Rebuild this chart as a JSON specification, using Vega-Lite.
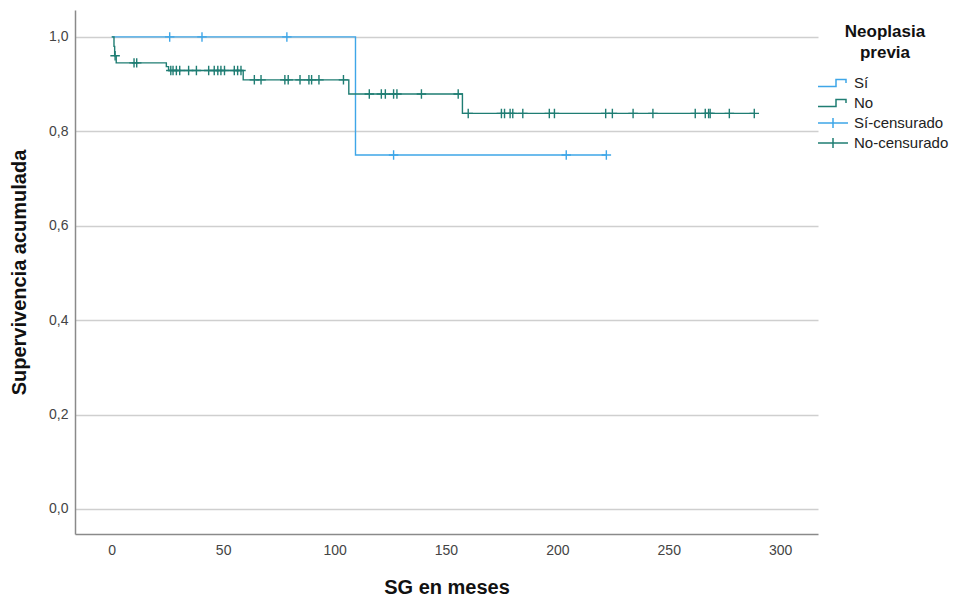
{
  "$schema": "https://vega.github.io/schema/vega-lite/v6.json",
  "autosize": {"type": "none"},
  "width": 743,
  "height": 524,
  "padding": {"left": 75, "top": 10, "right": 147, "bottom": 69},
  "background": "white",
  "config": {
    "view": {"stroke": null},
    "font": "Liberation Sans",
    "axis": {"domainColor": "#8a8a8a", "domainWidth": 1.5, "ticks": false, "labelColor": "#444", "labelFont": "Liberation Sans", "labelFontSize": 14, "titleFont": "Liberation Sans", "titleFontSize": 20, "titleFontWeight": "bold", "titleColor": "#111", "gridColor": "#cfcfcf", "gridWidth": 1.5}
  },
  "data": {
    "values": [
      {"grupo": "Sí", "tipo": "curva", "t": 0, "s": 1.0},
      {"grupo": "Sí", "tipo": "curva", "t": 109.4, "s": 0.75},
      {"grupo": "Sí", "tipo": "curva", "t": 222, "s": 0.75},
      {"grupo": "No", "tipo": "curva", "t": 0, "s": 1.0},
      {"grupo": "No", "tipo": "curva", "t": 1, "s": 0.98},
      {"grupo": "No", "tipo": "curva", "t": 1.3, "s": 0.96},
      {"grupo": "No", "tipo": "curva", "t": 2, "s": 0.945},
      {"grupo": "No", "tipo": "curva", "t": 24.5, "s": 0.937},
      {"grupo": "No", "tipo": "curva", "t": 25.5, "s": 0.929},
      {"grupo": "No", "tipo": "curva", "t": 59, "s": 0.909},
      {"grupo": "No", "tipo": "curva", "t": 106.4, "s": 0.879},
      {"grupo": "No", "tipo": "curva", "t": 157.4, "s": 0.838},
      {"grupo": "No", "tipo": "curva", "t": 288.4, "s": 0.838},
      {"grupo": "Sí-censurado", "tipo": "cens", "t": 26, "s": 1.0},
      {"grupo": "Sí-censurado", "tipo": "cens", "t": 40.5, "s": 1.0},
      {"grupo": "Sí-censurado", "tipo": "cens", "t": 78.6, "s": 1.0},
      {"grupo": "Sí-censurado", "tipo": "cens", "t": 126.5, "s": 0.75},
      {"grupo": "Sí-censurado", "tipo": "cens", "t": 204, "s": 0.75},
      {"grupo": "Sí-censurado", "tipo": "cens", "t": 222, "s": 0.75},
      {"grupo": "No-censurado", "tipo": "cens", "t": 1.5, "s": 0.96},
      {"grupo": "No-censurado", "tipo": "cens", "t": 10, "s": 0.945},
      {"grupo": "No-censurado", "tipo": "cens", "t": 11.2, "s": 0.945},
      {"grupo": "No-censurado", "tipo": "cens", "t": 26.5, "s": 0.929},
      {"grupo": "No-censurado", "tipo": "cens", "t": 27.5, "s": 0.929},
      {"grupo": "No-censurado", "tipo": "cens", "t": 29, "s": 0.929},
      {"grupo": "No-censurado", "tipo": "cens", "t": 30.5, "s": 0.929},
      {"grupo": "No-censurado", "tipo": "cens", "t": 34.5, "s": 0.929},
      {"grupo": "No-censurado", "tipo": "cens", "t": 38, "s": 0.929},
      {"grupo": "No-censurado", "tipo": "cens", "t": 43.5, "s": 0.929},
      {"grupo": "No-censurado", "tipo": "cens", "t": 46, "s": 0.929},
      {"grupo": "No-censurado", "tipo": "cens", "t": 47.6, "s": 0.929},
      {"grupo": "No-censurado", "tipo": "cens", "t": 49, "s": 0.929},
      {"grupo": "No-censurado", "tipo": "cens", "t": 50.6, "s": 0.929},
      {"grupo": "No-censurado", "tipo": "cens", "t": 55, "s": 0.929},
      {"grupo": "No-censurado", "tipo": "cens", "t": 56.5, "s": 0.929},
      {"grupo": "No-censurado", "tipo": "cens", "t": 58, "s": 0.929},
      {"grupo": "No-censurado", "tipo": "cens", "t": 64, "s": 0.909},
      {"grupo": "No-censurado", "tipo": "cens", "t": 67, "s": 0.909},
      {"grupo": "No-censurado", "tipo": "cens", "t": 77.7, "s": 0.909},
      {"grupo": "No-censurado", "tipo": "cens", "t": 79.2, "s": 0.909},
      {"grupo": "No-censurado", "tipo": "cens", "t": 84.5, "s": 0.909},
      {"grupo": "No-censurado", "tipo": "cens", "t": 88.5, "s": 0.909},
      {"grupo": "No-censurado", "tipo": "cens", "t": 89.7, "s": 0.909},
      {"grupo": "No-censurado", "tipo": "cens", "t": 93, "s": 0.909},
      {"grupo": "No-censurado", "tipo": "cens", "t": 104, "s": 0.909},
      {"grupo": "No-censurado", "tipo": "cens", "t": 115.6, "s": 0.879},
      {"grupo": "No-censurado", "tipo": "cens", "t": 121, "s": 0.879},
      {"grupo": "No-censurado", "tipo": "cens", "t": 122.8, "s": 0.879},
      {"grupo": "No-censurado", "tipo": "cens", "t": 126.5, "s": 0.879},
      {"grupo": "No-censurado", "tipo": "cens", "t": 128, "s": 0.879},
      {"grupo": "No-censurado", "tipo": "cens", "t": 139, "s": 0.879},
      {"grupo": "No-censurado", "tipo": "cens", "t": 155.5, "s": 0.879},
      {"grupo": "No-censurado", "tipo": "cens", "t": 160, "s": 0.838},
      {"grupo": "No-censurado", "tipo": "cens", "t": 174.9, "s": 0.838},
      {"grupo": "No-censurado", "tipo": "cens", "t": 176.3, "s": 0.838},
      {"grupo": "No-censurado", "tipo": "cens", "t": 178.8, "s": 0.838},
      {"grupo": "No-censurado", "tipo": "cens", "t": 180, "s": 0.838},
      {"grupo": "No-censurado", "tipo": "cens", "t": 184.5, "s": 0.838},
      {"grupo": "No-censurado", "tipo": "cens", "t": 196.4, "s": 0.838},
      {"grupo": "No-censurado", "tipo": "cens", "t": 198.7, "s": 0.838},
      {"grupo": "No-censurado", "tipo": "cens", "t": 221.7, "s": 0.838},
      {"grupo": "No-censurado", "tipo": "cens", "t": 224.7, "s": 0.838},
      {"grupo": "No-censurado", "tipo": "cens", "t": 234, "s": 0.838},
      {"grupo": "No-censurado", "tipo": "cens", "t": 242.9, "s": 0.838},
      {"grupo": "No-censurado", "tipo": "cens", "t": 261.9, "s": 0.838},
      {"grupo": "No-censurado", "tipo": "cens", "t": 266.4, "s": 0.838},
      {"grupo": "No-censurado", "tipo": "cens", "t": 267.9, "s": 0.838},
      {"grupo": "No-censurado", "tipo": "cens", "t": 268.6, "s": 0.838},
      {"grupo": "No-censurado", "tipo": "cens", "t": 277.2, "s": 0.838},
      {"grupo": "No-censurado", "tipo": "cens", "t": 288.4, "s": 0.838}
    ]
  },
  "encoding": {
    "x": {"field": "t", "type": "quantitative", "scale": {"domain": [-16.5, 317], "nice": false, "zero": false},
      "axis": {"title": "SG en meses", "values": [0, 50, 100, 150, 200, 250, 300], "grid": false, "labelPadding": 9, "titlePadding": 20}},
    "y": {"field": "s", "type": "quantitative", "scale": {"domain": [-0.053, 1.057], "nice": false, "zero": false},
      "axis": {"title": "Supervivencia acumulada", "values": [0, 0.2, 0.4, 0.6, 0.8, 1.0], "grid": true, "labelPadding": 7, "titlePadding": 19,
        "labelExpr": "replace(format(datum.value, '.1f'), '.', ',')"}},
    "color": {"field": "grupo", "type": "nominal",
      "scale": {"domain": ["Sí", "No", "Sí-censurado", "No-censurado"], "range": ["#3ea6e8", "#1f7d73", "#3ea6e8", "#1f7d73"]},
      "legend": {"title": ["Neoplasia", "previa"], "orient": "none", "legendX": 747, "legendY": 14,
        "titleFontSize": 17, "titleFontWeight": "bold", "titleColor": "#111", "titleAnchor": "middle", "titleAlign": "center", "titleLineHeight": 21, "titlePadding": 10,
        "labelFontSize": 15, "labelColor": "#222", "labelOffset": 10, "symbolSize": 400, "rowPadding": 1,
        "encode": {"symbols": {"update": {
          "shape": {"signal": "(datum.value === 'Sí' || datum.value === 'No') ? 'M-1.5,0.35H0.3V-0.35H1.3V0' : 'M-1.5,0H1.5M0,-0.5V0.5'"},
          "fill": {"value": "transparent"},
          "stroke": {"scale": "color", "field": "value"},
          "strokeWidth": {"value": 1.5},
          "size": {"value": 400}
        }}}}}
  },
  "layer": [
    {
      "transform": [{"filter": "datum.tipo === 'curva'"}],
      "mark": {"type": "line", "interpolate": "step-after", "strokeWidth": 1.4}
    },
    {
      "transform": [{"filter": "datum.tipo === 'cens'"}],
      "mark": {"type": "point", "shape": "M-1,0H1M0,-1V1", "size": 90, "filled": false, "strokeWidth": 1.4, "opacity": 1}
    }
  ]
}
